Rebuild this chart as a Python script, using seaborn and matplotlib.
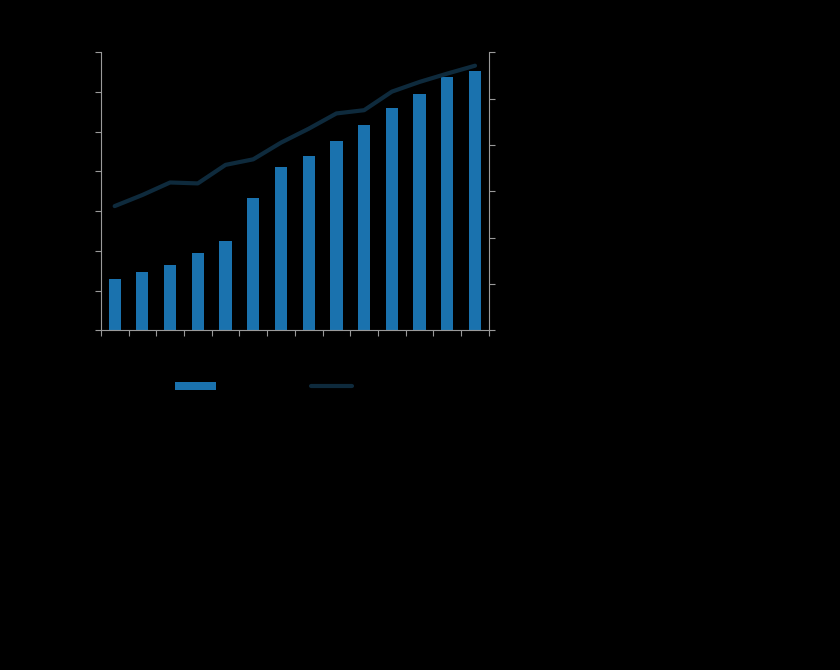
import matplotlib
matplotlib.use("Agg")
from matplotlib import pyplot as plt
import numpy as np
import pandas as pd
import seaborn as sns

# values (labels are not legible there)
years = [str(y) for y in range(2010, 2024)]
bar_values = [64, 73, 82, 97, 112, 166, 206, 220, 238, 258, 280, 297, 319, 327]
line_values = [26.8, 29.2, 31.9, 31.7, 35.7, 36.9, 40.5, 43.5, 46.8, 47.5, 51.5, 53.6, 55.4, 57.1]
bar_label = "Revenue"
line_label = "Margin (%)"

BAR_COLOR = "#1a72ae"
LINE_COLOR = "#0e2a3c"
SPINE_COLOR = "#9a9a9a"
BG = "black"

df = pd.DataFrame({"year": years, "bars": bar_values, "line": line_values})
df["pos"] = np.arange(len(df))

sns.set_style("ticks")
fig = plt.figure(figsize=(8.4, 6.7), dpi=100, facecolor=BG)
ax = fig.add_axes([0.12, 0.507, 0.462, 0.415], facecolor=BG)

sns.barplot(data=df, x="year", y="bars", color=BAR_COLOR, width=0.44,
            saturation=1, ax=ax, label=bar_label, edgecolor="none", linewidth=0)
ax.set_xlim(-0.5, len(years) - 0.5)
ax.set_ylim(0, 350)
ax.set_yticks(np.arange(0, 351, 50))

ax2 = ax.twinx()
sns.lineplot(data=df, x="pos", y="line", color=LINE_COLOR, linewidth=3,
             ax=ax2, label=line_label, legend=False)
ax2.set_ylim(0, 60)
ax2.set_yticks(np.arange(0, 61, 10))
ax2.set_xlim(-0.5, len(years) - 0.5)

# ticks between categories, labels at centres
ax.set_xticks(np.arange(-0.5, len(years), 1.0))
ax.set_xticklabels([])
ax.set_xticks(np.arange(len(years)), minor=True)
ax.set_xticklabels(years, minor=True, color=BG, fontsize=8)
ax.tick_params(axis="x", which="minor", length=0)

for a in (ax, ax2):
    a.set_xlabel("")
    a.set_ylabel("", color=BG)
    a.spines["top"].set_visible(False)
    for s in ("left", "right", "bottom"):
        a.spines[s].set_color(SPINE_COLOR)
        a.spines[s].set_linewidth(0.8)
    a.tick_params(axis="both", which="major", color=SPINE_COLOR, labelcolor=BG,
                  length=4, width=0.8, labelsize=8)
ax.spines["right"].set_visible(False)
ax2.spines["left"].set_visible(False)
ax2.spines["bottom"].set_visible(False)

h1, l1 = ax.get_legend_handles_labels()
h2, l2 = ax2.get_legend_handles_labels()
if ax.get_legend() is not None:
    ax.get_legend().remove()
fig.legend(h1 + h2, l1 + l2, loc="center left", bbox_to_anchor=(0.2025, 0.4225),
           borderaxespad=0, ncol=2, frameon=False, handlelength=3.3,
           handleheight=0.5, columnspacing=2.4, labelcolor=BG, fontsize=9)

fig.savefig("out.png", dpi=100, facecolor=BG)
